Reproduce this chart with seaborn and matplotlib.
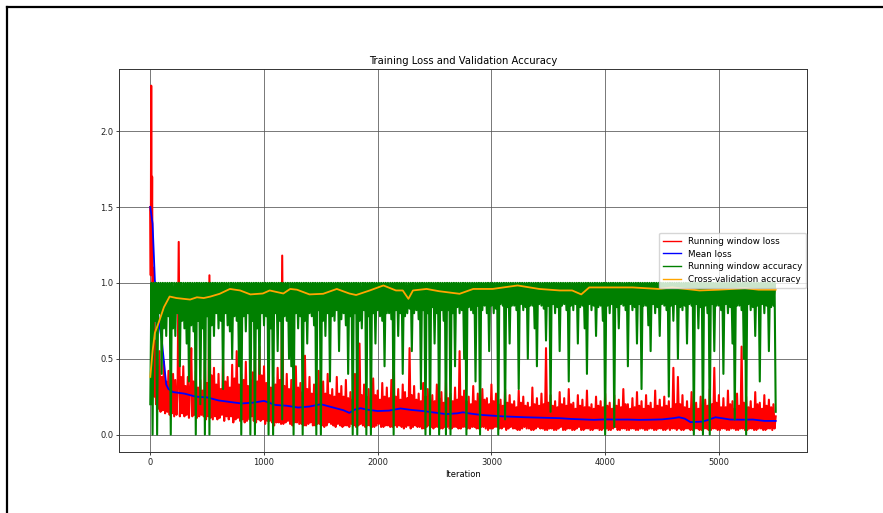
import numpy as np
import pandas as pd
import matplotlib
matplotlib.use("Agg")
import matplotlib.pyplot as plt
from matplotlib.lines import Line2D
import seaborn as sns

# ---------------- data ----------------
# Running window loss: fine early samples, then every 10 iterations from 40
loss_early_iter = [0, 4, 8, 12, 16, 20, 24, 28, 32, 36]
loss_early = [1.50, 1.05, 2.30, 1.20, 1.70, 0.95, 1.10, 0.30, 0.85, 0.25]
loss_main = [
    0.62, 0.20, 0.45, 0.17, 0.55, 0.15, 0.38, 0.16, 0.48, 0.14, 0.35, 0.15, 0.42, 0.13, 0.33, 0.14, 0.40, 0.12, 0.36, 0.13,
    0.30, 1.27, 0.12, 0.38, 0.14, 0.45, 0.12, 0.32, 0.13, 0.38, 0.11, 0.30, 0.57, 0.12, 0.35, 0.13, 0.42, 0.11, 0.31, 0.12,
    0.36, 0.13, 0.29, 0.12, 0.48, 0.10, 0.34, 0.12, 1.05, 0.11, 0.39, 0.10, 0.44, 0.12, 0.33, 0.10, 0.40, 0.11, 0.30, 0.13,
    0.50, 0.09, 0.35, 0.12, 0.38, 0.10, 0.31, 0.12, 0.46, 0.08, 0.37, 0.10, 0.55, 0.11, 0.33, 0.09, 0.40, 0.10, 0.36, 0.08,
    0.48, 0.09, 0.32, 0.10, 0.36, 0.12, 0.41, 0.09, 0.52, 0.08, 0.35, 0.10, 0.58, 0.09, 0.39, 0.10, 0.45, 0.07, 0.34, 0.09,
    0.42, 0.09, 0.31, 0.08, 0.38, 0.06, 0.33, 0.08, 0.44, 0.08, 0.36, 0.07, 1.18, 0.07, 0.32, 0.08, 0.40, 0.09, 0.30, 0.07,
    0.36, 0.06, 0.29, 0.08, 0.45, 0.08, 0.31, 0.07, 0.34, 0.07, 0.28, 0.06, 0.52, 0.06, 0.30, 0.07, 0.38, 0.08, 0.27, 0.06,
    0.33, 0.06, 0.26, 0.07, 0.42, 0.07, 0.29, 0.06, 0.35, 0.05, 0.27, 0.06, 0.40, 0.08, 0.26, 0.07, 0.30, 0.06, 0.25, 0.05,
    0.38, 0.07, 0.27, 0.06, 0.32, 0.05, 0.25, 0.06, 0.36, 0.06, 0.24, 0.05, 0.28, 0.07, 0.23, 0.06, 0.40, 0.05, 0.27, 0.06,
    0.60, 0.07, 0.26, 0.06, 0.33, 0.05, 0.25, 0.06, 0.30, 0.06, 0.24, 0.05, 0.37, 0.05, 0.26, 0.06, 0.29, 0.07, 0.23, 0.05,
    0.34, 0.05, 0.25, 0.06, 0.31, 0.06, 0.24, 0.05, 0.36, 0.05, 0.57, 0.06, 0.25, 0.05, 0.30, 0.06, 0.23, 0.05, 0.33, 0.04,
    0.28, 0.05, 0.24, 0.06, 0.57, 0.04, 0.26, 0.05, 0.32, 0.06, 0.23, 0.05, 0.27, 0.05, 0.22, 0.04, 0.34, 0.04, 0.25, 0.05,
    0.30, 0.06, 0.23, 0.05, 0.26, 0.04, 0.22, 0.05, 0.33, 0.05, 0.24, 0.04, 0.28, 0.04, 0.21, 0.05, 0.36, 0.05, 0.24, 0.04,
    0.27, 0.04, 0.22, 0.05, 0.31, 0.05, 0.23, 0.04, 0.55, 0.04, 0.25, 0.05, 0.29, 0.05, 0.22, 0.04, 0.25, 0.04, 0.20, 0.05,
    0.32, 0.05, 0.22, 0.04, 0.27, 0.04, 0.21, 0.05, 0.30, 0.05, 0.23, 0.04, 0.24, 0.03, 0.20, 0.04, 0.33, 0.04, 0.22, 0.05,
    0.27, 0.05, 0.20, 0.04, 0.23, 0.04, 0.19, 0.05, 0.30, 0.03, 0.21, 0.04, 0.26, 0.05, 0.20, 0.04, 0.22, 0.04, 0.18, 0.03,
    0.29, 0.03, 0.21, 0.04, 0.25, 0.05, 0.19, 0.04, 0.21, 0.04, 0.18, 0.03, 0.31, 0.03, 0.20, 0.04, 0.24, 0.05, 0.19, 0.04,
    0.27, 0.04, 0.20, 0.03, 0.57, 0.03, 0.21, 0.04, 0.26, 0.04, 0.19, 0.03, 0.22, 0.03, 0.18, 0.04, 0.28, 0.05, 0.20, 0.03,
    0.24, 0.03, 0.19, 0.04, 0.30, 0.04, 0.20, 0.03, 0.21, 0.03, 0.17, 0.04, 0.26, 0.05, 0.19, 0.03, 0.23, 0.03, 0.18, 0.04,
    0.29, 0.04, 0.18, 0.03, 0.20, 0.03, 0.17, 0.04, 0.25, 0.04, 0.19, 0.03, 0.22, 0.03, 0.18, 0.04, 0.27, 0.04, 0.19, 0.03,
    0.21, 0.03, 0.17, 0.04, 0.26, 0.05, 0.19, 0.03, 0.23, 0.03, 0.18, 0.04, 0.30, 0.04, 0.20, 0.03, 0.20, 0.03, 0.17, 0.04,
    0.24, 0.04, 0.18, 0.03, 0.28, 0.03, 0.19, 0.04, 0.22, 0.04, 0.17, 0.03, 0.26, 0.03, 0.19, 0.04, 0.21, 0.04, 0.17, 0.03,
    0.29, 0.03, 0.19, 0.04, 0.23, 0.04, 0.18, 0.03, 0.25, 0.03, 0.19, 0.04, 0.22, 0.03, 0.17, 0.04, 0.44, 0.04, 0.20, 0.03,
    0.38, 0.04, 0.20, 0.03, 0.26, 0.03, 0.18, 0.04, 0.22, 0.04, 0.17, 0.03, 0.28, 0.03, 0.19, 0.04, 0.21, 0.04, 0.17, 0.03,
    0.25, 0.03, 0.18, 0.04, 0.23, 0.04, 0.19, 0.03, 0.30, 0.03, 0.20, 0.04, 0.44, 0.04, 0.21, 0.03, 0.26, 0.03, 0.18, 0.04,
    0.24, 0.04, 0.18, 0.03, 0.29, 0.03, 0.20, 0.04, 0.22, 0.04, 0.17, 0.03, 0.27, 0.03, 0.19, 0.04, 0.58, 0.04, 0.21, 0.03,
    0.25, 0.03, 0.18, 0.04, 0.22, 0.04, 0.17, 0.03, 0.28, 0.03, 0.20, 0.04, 0.21, 0.04, 0.17, 0.03, 0.26, 0.03, 0.19, 0.04,
    0.23, 0.04, 0.18, 0.03, 0.20, 0.04, 0.12,
]
loss_main_iter = np.arange(40, 5501, 10)

# Mean loss
mean_iter = [0, 20, 40, 60, 80, 100, 120, 140, 160, 200, 300, 400, 500, 600,
             700, 800, 900, 1000, 1100, 1200, 1300, 1400, 1500, 1600, 1700,
             1750, 1800, 1850, 1900, 2000, 2100, 2200, 2300, 2400, 2500, 2600,
             2700, 2750, 2800, 2900, 3000, 3100, 3200, 3300, 3400, 3500, 3600,
             3700, 3800, 3900, 4000, 4100, 4200, 4300, 4400, 4500, 4600, 4650,
             4700, 4750, 4850, 4900, 4970, 5050, 5100, 5200, 5300, 5400, 5500]
mean_loss = [1.50, 1.39, 1.02, 0.85, 0.72, 0.63, 0.48, 0.33, 0.30, 0.28, 0.27,
             0.25, 0.245, 0.225, 0.215, 0.205, 0.21, 0.222, 0.195, 0.19, 0.178,
             0.185, 0.20, 0.18, 0.16, 0.143, 0.165, 0.174, 0.165, 0.155, 0.158,
             0.172, 0.162, 0.155, 0.145, 0.135, 0.14, 0.147, 0.14, 0.13, 0.125,
             0.12, 0.117, 0.114, 0.112, 0.11, 0.108, 0.103, 0.10, 0.097, 0.10,
             0.099, 0.099, 0.097, 0.098, 0.10, 0.108, 0.114, 0.105, 0.082,
             0.085, 0.095, 0.114, 0.105, 0.099, 0.098, 0.099, 0.09, 0.09]

# Running window accuracy, every 10 iterations
acc_window = [
    0.20, 1.0, 0.00, 1.0, 0.75, 1.0, 0.00, 1.0, 0.80, 1.0, 0.40, 1.0, 0.70, 1.0, 0.65, 1.0, 0.78, 1.0, 0.00, 1.0,
    0.70, 1.0, 0.65, 1.0, 0.80, 1.0, 0.45, 1.0, 0.75, 1.0, 0.70, 1.0, 0.60, 1.0, 0.35, 1.0, 0.72, 1.0, 0.68, 1.0,
    0.00, 1.0, 0.75, 1.0, 0.20, 1.0, 0.70, 1.0, 0.00, 1.0, 0.78, 1.0, 0.00, 1.0, 0.72, 1.0, 0.65, 1.0, 0.80, 1.0,
    0.70, 1.0, 0.75, 1.0, 0.30, 1.0, 0.80, 1.0, 0.72, 1.0, 0.68, 1.0, 0.50, 1.0, 0.78, 1.0, 0.75, 1.0, 0.45, 1.0,
    0.00, 1.0, 0.78, 1.0, 0.68, 1.0, 0.80, 1.0, 0.00, 1.0, 0.75, 1.0, 0.00, 1.0, 0.70, 1.0, 0.40, 1.0, 0.80, 1.0,
    0.72, 1.0, 0.78, 1.0, 0.00, 1.0, 0.70, 1.0, 0.00, 1.0, 0.80, 1.0, 0.55, 1.0, 0.75, 1.0, 0.10, 1.0, 0.78, 1.0,
    0.75, 1.0, 0.50, 1.0, 0.45, 1.0, 0.00, 1.0, 0.80, 1.0, 0.70, 1.0, 0.78, 1.0, 0.00, 1.0, 0.75, 1.0, 0.60, 1.0,
    0.80, 1.0, 0.78, 1.0, 0.72, 1.0, 0.00, 1.0, 0.82, 1.0, 0.00, 1.0, 0.75, 1.0, 0.65, 1.0, 0.80, 1.0, 0.35, 1.0,
    0.78, 1.0, 0.75, 1.0, 0.82, 1.0, 0.55, 1.0, 0.76, 1.0, 0.80, 1.0, 0.72, 1.0, 0.40, 1.0, 0.78, 1.0, 0.00, 1.0,
    0.80, 1.0, 0.00, 1.0, 0.75, 1.0, 0.70, 1.0, 0.82, 1.0, 0.00, 1.0, 0.78, 1.0, 0.00, 1.0, 0.80, 1.0, 0.60, 1.0,
    0.82, 1.0, 0.78, 1.0, 0.75, 1.0, 0.45, 1.0, 0.80, 1.0, 0.80, 1.0, 0.76, 1.0, 0.00, 1.0, 0.82, 1.0, 0.65, 1.0,
    0.80, 1.0, 0.40, 1.0, 0.78, 1.0, 0.80, 1.0, 0.83, 1.0, 0.55, 1.0, 0.80, 1.0, 0.82, 1.0, 0.76, 1.0, 0.30, 1.0,
    0.82, 1.0, 0.00, 1.0, 0.80, 1.0, 0.00, 1.0, 0.84, 1.0, 0.60, 1.0, 0.80, 1.0, 0.00, 1.0, 0.82, 1.0, 0.75, 1.0,
    0.00, 1.0, 0.82, 1.0, 0.00, 1.0, 0.80, 1.0, 0.45, 1.0, 0.84, 1.0, 0.80, 1.0, 0.82, 1.0, 0.50, 1.0, 0.00, 1.0,
    0.84, 1.0, 0.82, 1.0, 0.80, 1.0, 0.35, 1.0, 0.85, 1.0, 0.00, 1.0, 0.82, 1.0, 0.85, 1.0, 0.80, 1.0, 0.55, 1.0,
    0.85, 1.0, 0.80, 1.0, 0.83, 1.0, 0.00, 1.0, 0.86, 1.0, 0.85, 1.0, 0.10, 1.0, 0.84, 1.0, 0.60, 1.0, 0.85, 1.0,
    0.85, 1.0, 0.82, 1.0, 0.30, 1.0, 0.86, 1.0, 0.82, 1.0, 0.84, 1.0, 0.50, 1.0, 0.85, 1.0, 0.85, 1.0, 0.70, 1.0,
    0.45, 1.0, 0.86, 1.0, 0.85, 1.0, 0.83, 1.0, 0.62, 1.0, 0.85, 1.0, 0.15, 1.0, 0.86, 1.0, 0.80, 1.0, 0.84, 1.0,
    0.55, 1.0, 0.85, 1.0, 0.86, 1.0, 0.82, 1.0, 0.35, 1.0, 0.85, 1.0, 0.82, 1.0, 0.86, 1.0, 0.60, 1.0, 0.84, 1.0,
    0.85, 1.0, 0.70, 1.0, 0.40, 1.0, 0.86, 1.0, 0.82, 1.0, 0.85, 1.0, 0.65, 1.0, 0.84, 1.0, 0.85, 1.0, 0.75, 1.0,
    0.00, 1.0, 0.85, 1.0, 0.80, 1.0, 0.86, 1.0, 0.05, 1.0, 0.84, 1.0, 0.70, 1.0, 0.86, 1.0, 0.85, 1.0, 0.82, 1.0,
    0.45, 1.0, 0.86, 1.0, 0.82, 1.0, 0.84, 1.0, 0.60, 1.0, 0.86, 1.0, 0.30, 1.0, 0.85, 1.0, 0.85, 1.0, 0.72, 1.0,
    0.55, 1.0, 0.86, 1.0, 0.80, 1.0, 0.84, 1.0, 0.65, 1.0, 0.86, 1.0, 0.85, 1.0, 0.82, 1.0, 0.25, 1.0, 0.85, 1.0,
    0.75, 1.0, 0.86, 1.0, 0.50, 1.0, 0.84, 1.0, 0.82, 1.0, 0.85, 1.0, 0.60, 1.0, 0.86, 1.0, 0.85, 1.0, 0.00, 1.0,
    0.86, 1.0, 0.70, 1.0, 0.84, 1.0, 0.00, 1.0, 0.85, 1.0, 0.80, 1.0, 0.00, 1.0, 0.86, 1.0, 0.55, 1.0, 0.85, 1.0,
    0.85, 1.0, 0.82, 1.0, 0.40, 1.0, 0.86, 1.0, 0.80, 1.0, 0.84, 1.0, 0.60, 1.0, 0.10, 1.0, 0.85, 1.0, 0.85, 1.0,
    0.82, 1.0, 0.50, 1.0, 0.00, 1.0, 0.86, 1.0, 0.82, 1.0, 0.84, 1.0, 0.65, 1.0, 0.85, 1.0, 0.35, 1.0, 0.86, 1.0,
    0.80, 1.0, 0.85, 1.0, 0.55, 1.0, 0.84, 1.0, 0.85, 1.0, 0.15,
]
acc_iter = np.arange(0, 5501, 10)

# Cross-validation accuracy
cv_iter = [0, 20, 40, 70, 120, 170, 230, 290, 350, 410, 470, 530, 610, 700,
           790, 880, 990, 1050, 1170, 1230, 1290, 1400, 1520, 1640, 1750, 1810,
           1930, 2050, 2160, 2220, 2270, 2310, 2430, 2540, 2720, 2840, 3010,
           3230, 3420, 3600, 3710, 3790, 3860, 4010, 4240, 4470, 4590, 4830,
           5000, 5230, 5350, 5500]
cv_acc = [0.38, 0.55, 0.67, 0.73, 0.84, 0.91, 0.90, 0.895, 0.89, 0.905, 0.90,
          0.91, 0.928, 0.96, 0.95, 0.924, 0.93, 0.95, 0.93, 0.96, 0.955, 0.924,
          0.928, 0.96, 0.93, 0.92, 0.95, 0.983, 0.95, 0.95, 0.895, 0.95, 0.96,
          0.945, 0.928, 0.96, 0.96, 0.983, 0.96, 0.95, 0.95, 0.924, 0.97, 0.97,
          0.97, 0.96, 0.97, 0.95, 0.955, 0.965, 0.955, 0.955]

# ---------------- frames ----------------
loss_df = pd.DataFrame({
    "iteration": list(loss_early_iter) + list(loss_main_iter),
    "value": loss_early + loss_main,
})
mean_df = pd.DataFrame({"iteration": mean_iter, "value": mean_loss})
acc_df = pd.DataFrame({"iteration": acc_iter, "value": acc_window})
cv_df = pd.DataFrame({"iteration": cv_iter, "value": cv_acc})

# ---------------- plot ----------------
fig = plt.figure(figsize=(8.83, 5.13), dpi=100)
ax = fig.add_axes([0.1348, 0.1189, 0.9139 - 0.1348, 0.8655 - 0.1189])

lw = 1.5
sns.lineplot(data=loss_df, x="iteration", y="value", color="red", lw=lw,
             estimator=None, sort=False, label="Running window loss", ax=ax)
sns.lineplot(data=mean_df, x="iteration", y="value", color="blue", lw=1.3,
             estimator=None, sort=False, label="Mean loss", ax=ax)
sns.lineplot(data=acc_df, x="iteration", y="value", color="green", lw=lw,
             estimator=None, sort=False, label="Running window accuracy", ax=ax)
sns.lineplot(data=cv_df, x="iteration", y="value", color="orange", lw=1.3,
             estimator=None, sort=False, label="Cross-validation accuracy", ax=ax)

ax.set_xlim(-275, 5775)
ax.set_ylim(-0.115, 2.41)
ax.set_xticks([0, 1000, 2000, 3000, 4000, 5000])
ax.set_yticks([0.0, 0.5, 1.0, 1.5, 2.0])
ax.set_yticklabels(["0.0", "0.5", "1.0", "1.5", "2.0"])
ax.grid(True, color="#555555", linewidth=0.7, alpha=0.8)
ax.tick_params(labelsize=6, length=2.2, width=0.6, pad=2, colors="#222222")
for s in ax.spines.values():
    s.set_linewidth(0.7)
    s.set_color("#333333")

ax.set_title("Training Loss and Validation Accuracy", fontsize=7.2, pad=3.5)
ax.set_xlabel("Iteration", fontsize=6, labelpad=2)
ax.set_ylabel("")

leg = ax.legend(loc="center right", fontsize=6.3, handlelength=2.0,
                borderaxespad=0.1, framealpha=0.8, labelspacing=0.45,
                borderpad=0.45)
for h in leg.get_lines():
    h.set_linewidth(1.0)

# Screenshot frame lines (top and left)
fig.add_artist(Line2D([7.5 / 883, 1.0], [1 - 6.5 / 513, 1 - 6.5 / 513],
                      color="black", lw=1.6, transform=fig.transFigure))
fig.add_artist(Line2D([7.5 / 883, 7.5 / 883], [0.0, 1 - 6.5 / 513],
                      color="black", lw=1.6, transform=fig.transFigure))

fig.savefig("out.png", dpi=100)
